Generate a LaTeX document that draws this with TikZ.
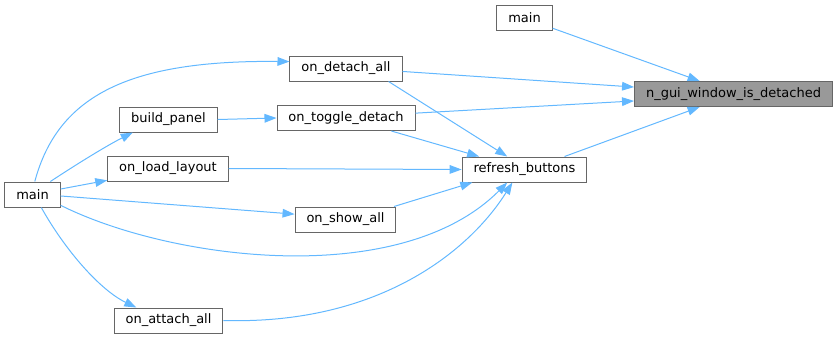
\documentclass[tikz,border=0pt]{standalone}
\usepackage{fontspec}
\setmainfont{DejaVu Sans}
\usepackage{tikz}
\usetikzlibrary{positioning}
\usetikzlibrary{arrows.meta}
\definecolor{edgeblue}{HTML}{63B8FF}
\definecolor{boxgray}{HTML}{666666}
\definecolor{rootgray}{HTML}{999999}

\begin{document}
\begin{tikzpicture}[x=0.75pt, y=-0.75pt, line width=0.75pt,
    fn/.style={draw=boxgray, fill=white, minimum height=18.75pt, inner xsep=8.6pt, inner ysep=0pt,
               font=\fontsize{9.75}{11}\selectfont},
    root/.style={fn, fill=rootgray},
    call/.style={draw=edgeblue, -{Triangle[length=9pt,width=6.5pt]}}]

        \useasboundingbox (0,0) rectangle (839,339);

        % Functions
        \node[fn] (mainl) at (32.5,194.5) {main};
        \node[fn] (build) at (168.5,119.5) {build\_panel};
        \node[fn] (load) at (168,168.5) {on\_load\_layout};
        \node[fn] (attach) at (168.5,320.5) {on\_attach\_all};
        \node[fn] (detach) at (346,68.5) {on\_detach\_all};
        \node[fn] (toggle) at (346,118) {on\_toggle\_detach};
        \node[fn] (show) at (345.5,219.5) {on\_show\_all};
        \node[fn] (maint) at (524.5,18) {main};
        \node[fn] (refresh) at (524.5,169.5) {refresh\_buttons};
        \node[root] (ngui) at (733.5,94) {n\_gui\_window\_is\_detached};

        % Calls from main
        \draw[call] (mainl.80) .. controls (58,95) and (130,60) .. (detach.173);
        \draw[call] (mainl.36) .. controls (80,162) and (108,145) .. (build.200);
        \draw[call] (mainl.11) -- (load.191);
        \draw[call] (mainl.-3) -- (show.174);
        \draw[call] (mainl.-21) .. controls (170,260) and (400,290) .. (refresh.217);
        \draw[call] (mainl.-56) .. controls (65,250) and (100,290) .. (attach.158);

        \draw[call] (build.east) -- (toggle.west);
        \draw[call] (attach.east) .. controls (380,325) and (470,250) .. (refresh.227);

        % Into refresh_buttons
        \draw[call] (detach.-17) -- (refresh.143);
        \draw[call] (toggle.-16) -- (refresh.164);
        \draw[call] (load.east) -- (refresh.west);
        \draw[call] (show.15) -- (refresh.194);

        % Into n_gui_window_is_detached
        \draw[call] (maint.-20) -- (ngui.159);
        \draw[call] (detach.-3) -- (ngui.176);
        \draw[call] (toggle.4) -- (ngui.184);
        \draw[call] (refresh.18) -- (ngui.201);

\end{tikzpicture}
\end{document}
